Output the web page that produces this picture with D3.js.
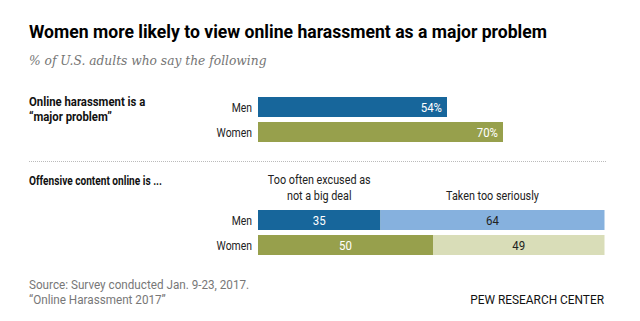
<!DOCTYPE html>
<html>
<head>
<meta charset="utf-8">
<script src="https://cdn.jsdelivr.net/npm/d3@7"></script>
<style>
  body { margin: 0; background: #fff; }
  text { font-family: "Roboto", "Liberation Sans", sans-serif; }
</style>
</head>
<body>
<div id="chart"></div>
<script>
// data
const groups = ["Men", "Women"];
const majorProblem = [54, 70];
const excused = [35, 50];
const tooSeriously = [64, 49];
const seriesLabels = [["Too often excused as", "not a big deal"], ["Taken too seriously"]];

const colors = {
  Men: ["#17669b", "#86b1de"],
  Women: ["#97a04c", "#d9ddb8"],
};

const width = 640;
const height = 321;

// squeeze text horizontally to mimic the condensed face of the original
function condense(sel, f) {
  sel.each(function () {
    const w = this.getComputedTextLength();
    d3.select(this).attr("textLength", w * f).attr("lengthAdjust", "spacingAndGlyphs");
  });
}

const svg = d3
  .select("#chart")
  .append("svg")
  .attr("width", width)
  .attr("height", height);

// title + subtitle
svg
  .append("text")
  .attr("x", 29)
  .attr("y", 38)
  .attr("font-size", 18.5)
  .attr("font-weight", "bold")
  .attr("fill", "#000")
  .attr("textLength", 518)
  .attr("lengthAdjust", "spacingAndGlyphs")
  .text("Women more likely to view online harassment as a major problem");

svg
  .append("text")
  .attr("x", 29)
  .attr("y", 65)
  .attr("font-style", "italic")
  .attr("fill", "#757575")
  .style("font-family", "'DejaVu Serif', 'Liberation Serif', serif")
  .style("font-size", "12.5px")
  .text("% of U.S. adults who say the following")
  .call(condense, 0.98);

const xScale = d3.scaleLinear().domain([0, 100]).range([258, 608]);

// section 1
const y1 = d3.scaleBand().domain(groups).range([97, 142]).paddingInner(0.2);

svg
  .append("text")
  .attr("font-size", 13.5)
  .attr("font-weight", "bold")
  .attr("fill", "#111")
  .selectAll("tspan")
  .data(["Online harassment is a", "\u201cmajor problem\u201d"])
  .join("tspan")
  .attr("x", 29)
  .attr("y", (d, i) => 106 + i * 15)
  .text((d) => d)
  .call(condense, 0.84);

const rows1 = svg
  .append("g")
  .selectAll("g")
  .data(groups.map((g, i) => ({ group: g, value: majorProblem[i] })))
  .join("g");

rows1
  .append("rect")
  .attr("x", xScale(0))
  .attr("y", (d) => y1(d.group))
  .attr("width", (d) => xScale(d.value) - xScale(0))
  .attr("height", y1.bandwidth())
  .attr("fill", (d) => colors[d.group][0]);

rows1
  .append("text")
  .attr("x", (d) => xScale(d.value) - 5)
  .attr("y", (d) => y1(d.group) + y1.bandwidth() / 2 + 4.5)
  .attr("text-anchor", "end")
  .attr("font-size", 13)
  .attr("fill", "#fff")
  .text((d) => d.value + "%")
  .call(condense, 0.88);

rows1
  .append("text")
  .attr("x", 252)
  .attr("y", (d) => y1(d.group) + y1.bandwidth() / 2 + 4.5)
  .attr("text-anchor", "end")
  .attr("font-size", 13)
  .attr("fill", "#222")
  .text((d) => d.group)
  .call(condense, 0.8);

// separator
svg
  .append("line")
  .attr("x1", 29)
  .attr("x2", 606)
  .attr("y1", 161.5)
  .attr("y2", 161.5)
  .attr("stroke", "#bbb")
  .attr("stroke-width", 1)
  .attr("stroke-dasharray", "1,1");

// section 2
const y2 = d3.scaleBand().domain(groups).range([210, 255]).paddingInner(0.2);

svg
  .append("text")
  .attr("x", 29)
  .attr("y", 185)
  .attr("font-size", 13.5)
  .attr("font-weight", "bold")
  .attr("fill", "#111")
  .text("Offensive content online is ...")
  .call(condense, 0.75);

const stacked = groups.map((g, i) => {
  const a = excused[i];
  const b = tooSeriously[i];
  return { group: g, segs: [{ x0: 0, x1: a, v: a, k: 0 }, { x0: a, x1: a + b, v: b, k: 1 }] };
});

// series headers, centered over the Men segments
stacked[0].segs.forEach((s, k) => {
  const cx = (xScale(s.x0) + xScale(s.x1)) / 2;
  const lines = seriesLabels[k];
  svg
    .append("text")
    .attr("text-anchor", "middle")
    .attr("font-size", 13)
    .attr("fill", "#222")
    .selectAll("tspan")
    .data(lines)
    .join("tspan")
    .attr("x", cx)
    .attr("y", (d, i) => 200 - (lines.length - 1 - i) * 16)
    .text((d) => d)
    .call(condense, 0.83);
});

const rows2 = svg
  .append("g")
  .selectAll("g")
  .data(stacked)
  .join("g");

rows2
  .selectAll("rect")
  .data((d) => d.segs.map((s) => ({ ...s, group: d.group })))
  .join("rect")
  .attr("x", (d) => xScale(d.x0))
  .attr("y", (d) => y2(d.group))
  .attr("width", (d) => xScale(d.x1) - xScale(d.x0))
  .attr("height", y2.bandwidth())
  .attr("fill", (d) => colors[d.group][d.k]);

rows2
  .selectAll("text.val")
  .data((d) => d.segs.map((s) => ({ ...s, group: d.group })))
  .join("text")
  .attr("class", "val")
  .attr("x", (d) => (xScale(d.x0) + xScale(d.x1)) / 2)
  .attr("y", (d) => y2(d.group) + y2.bandwidth() / 2 + 4.5)
  .attr("text-anchor", "middle")
  .attr("font-size", 13)
  .attr("fill", (d) => (d.k === 0 ? "#fff" : "#222"))
  .text((d) => d.v)
  .call(condense, 0.88);

rows2
  .append("text")
  .attr("x", 252)
  .attr("y", (d) => y2(d.group) + y2.bandwidth() / 2 + 4.5)
  .attr("text-anchor", "end")
  .attr("font-size", 13)
  .attr("fill", "#222")
  .text((d) => d.group)
  .call(condense, 0.8);

// footer
svg
  .append("text")
  .attr("font-size", 12.5)
  .attr("fill", "#777")
  .selectAll("tspan")
  .data(["Source: Survey conducted Jan. 9-23, 2017.", "\u201cOnline Harassment 2017\u201d"])
  .join("tspan")
  .attr("x", 29)
  .attr("y", (d, i) => 289 + i * 15)
  .text((d) => d)
  .call(condense, 0.935);

svg
  .append("text")
  .attr("x", 604)
  .attr("y", 304)
  .attr("text-anchor", "end")
  .attr("font-size", 12.5)
  .attr("fill", "#111")
  .text("PEW RESEARCH CENTER")
  .call(condense, 0.95);
</script>
</body>
</html>
